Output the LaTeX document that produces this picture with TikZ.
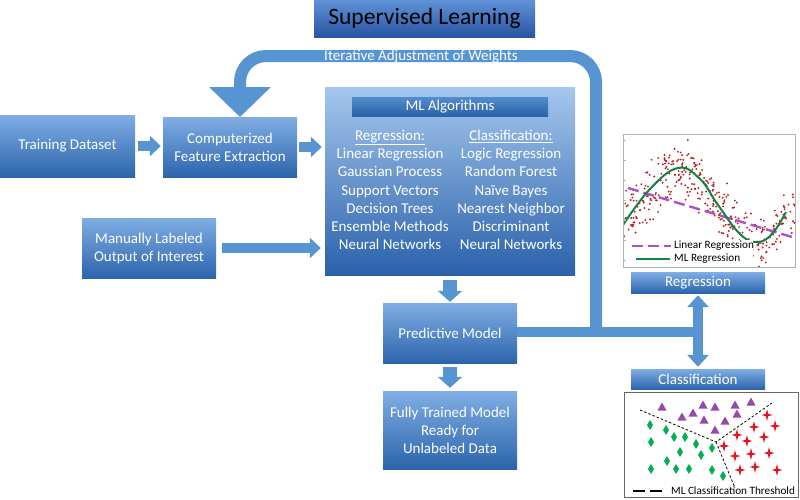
\documentclass[tikz,border=0pt]{standalone}
\usepackage{fontspec}
\setmainfont{Carlito}
\usetikzlibrary{arrows.meta}
\definecolor{btop}{RGB}{128,174,228}
\definecolor{bbot}{RGB}{44,100,172}
\definecolor{mltop}{RGB}{165,199,238}
\definecolor{mlbot}{RGB}{42,97,170}
\definecolor{bartop}{RGB}{82,140,206}
\definecolor{barbot}{RGB}{44,98,168}
\definecolor{ttop}{RGB}{96,146,216}
\definecolor{tbot}{RGB}{40,84,162}
\definecolor{arr}{RGB}{86,148,210}
\definecolor{dotred}{RGB}{185,30,30}
\definecolor{linpur}{RGB}{172,82,196}
\definecolor{mlgreen}{RGB}{20,130,70}
\definecolor{tripur}{RGB}{150,72,172}
\definecolor{diagreen}{RGB}{0,176,80}
\definecolor{starred}{RGB}{230,20,30}
\begin{document}
\begin{tikzpicture}[x=1pt,y=-1pt,
  box/.style={rectangle, top color=btop, bottom color=bbot, text=white, align=center,
    font=\fontsize{15}{18}\selectfont, inner sep=0pt},
  fath/.style={draw=arr, line width=10pt, -{Triangle[length=11pt,width=20pt]}},
  fatv/.style={draw=arr, line width=14pt, -{Triangle[length=11pt,width=24pt]}},
  small/.style={font=\fontsize{11.2}{13}\selectfont, inner sep=0pt, anchor=west},
]
\useasboundingbox (0,0) rectangle (800,499);

% title
\node[box, top color=ttop, bottom color=tbot, text=black, font=\fontsize{23.5}{26}\selectfont,
  minimum width=221pt, minimum height=37pt] (title) at (424.5,18.5) {Supervised Learning};

% main boxes
\node[box, minimum width=135pt, minimum height=62pt] (train) at (67.5,146) {Training Dataset};
\node[box, minimum width=134pt, minimum height=60pt] (comp) at (230,147) {Computerized\\Feature Extraction};
\node[box, minimum width=134pt, minimum height=60pt] (man) at (149,248) {Manually Labeled\\Output of Interest};
\node[box, top color=mltop, bottom color=mlbot, minimum width=250pt, minimum height=188pt] (ml) at (450,181) {};
\node[box, top color=bartop, bottom color=barbot, minimum width=196pt, minimum height=19pt] (mlt) at (450,106.5) {ML Algorithms};
\node[text=white, align=center, font=\fontsize{15}{18.2}\selectfont, inner sep=0pt] (regcol) at (390,190)
  {\underline{Regression:}\\Linear Regression\\Gaussian Process\\Support Vectors\\Decision Trees\\Ensemble Methods\\Neural Networks};
\node[text=white, align=center, font=\fontsize{15}{18.2}\selectfont, inner sep=0pt] (clscol) at (511,190)
  {\underline{Classification:}\\Logic Regression\\Random Forest\\Naïve Bayes\\Nearest Neighbor\\Discriminant\\Neural Networks};
\node[box, minimum width=134pt, minimum height=60pt] (pred) at (450,333) {Predictive Model};
\node[box, minimum width=134pt, minimum height=78pt] (full) at (450,430) {Fully Trained Model\\Ready for\\Unlabeled Data};
\node[box, minimum width=134pt, minimum height=21pt] (reg) at (698,282.5) {Regression};
\node[box, minimum width=134pt, minimum height=20pt] (cls) at (698,379) {Classification};

% block arrows
\draw[fath, shorten <=3pt, shorten >=2pt] (train.east) -- (train.east -| comp.west);
\draw[fath, shorten <=2pt, shorten >=3pt] (comp.east) -- (comp.east -| ml.west);
\draw[fath, shorten <=6pt, shorten >=4pt] (man.east) -- (man.east -| ml.west);
\draw[fatv, shorten <=5pt, shorten >=1pt] (ml.south) -- (pred.north);
\draw[fatv, shorten <=4pt, shorten >=3pt] (pred.south) -- (full.north);

% output connectors
\coordinate (jr) at (703,332);
\coordinate (fbs) at (596,332);
\coordinate (fbr) at (596,56);
\coordinate (fbl) at (240,56);
\coordinate (fbend) at (240,117);
\draw[draw=arr, line width=12pt, rounded corners=26pt, -{Triangle[length=30pt,width=60pt]}]
  (fbs) -- (fbr) -- (fbl) -- (fbend);
\draw[draw=arr, line width=10pt] (pred.east |- jr) -- (jr);
\draw[draw=arr, line width=10pt, {Triangle[length=12pt,width=21pt]}-{Triangle[length=12pt,width=21pt]},
  shorten <=2pt, shorten >=2pt] (reg.south) -- (cls.north);
\node[text=white, font=\fontsize{15}{17}\selectfont, inner sep=0pt] (iter) at (421,56.5) {Iterative Adjustment of Weights};

% regression plot
\begin{scope}
  \clip (623,134) rectangle (795,267);
  \pgfmathsetseed{7}
  \foreach \i in {1,...,360} {
    \pgfmathsetmacro\xx{623+172*rnd}
    \pgfmathsetmacro\yy{205-37*sin(360*((\xx-623)/162-0.34)/0.98+90)+14*(rand+rand+rand)}
    \fill[dotred] (\xx,\yy) circle (1.05pt);
  }
  \draw[linpur, line width=2.4pt, dash pattern=on 11pt off 5pt] (628,188) -- (792,237);
  \draw[mlgreen, line width=2pt] plot[smooth, tension=0.7] coordinates
    {(623,225) (650,189) (678,168) (700,179) (718,205) (740,234) (757,242) (772,234) (786,212)};
\end{scope}
\draw[gray!60, line width=0.6pt] (623,134) rectangle (795,267);
\foreach \t in {0,1,2,3,4,5,6} {
  \draw[gray!60, line width=0.4pt] (623,{140+20*\t}) -- (626,{140+20*\t});
}
\fill[white] (629,240) rectangle (753,265);
\draw[linpur, line width=2.4pt, dash pattern=on 11pt off 5pt] (632,246) -- (671,246);
\draw[mlgreen, line width=2.4pt] (636,259) -- (670,259);
\node[small] (lrl) at (674,246) {Linear Regression};
\node[small] (mll) at (674,259) {ML Regression};

% classification plot
\draw[gray!80!black, line width=0.7pt] (624,392) rectangle (798,497);
\coordinate (cc) at (716,442);
\draw[black, line width=0.8pt, dash pattern=on 2.5pt off 2pt] (640,410) -- (cc) -- (772,403);
\draw[black, line width=0.8pt, dash pattern=on 2.5pt off 2pt] (cc) -- (735,488);
\foreach \x/\y in {662/407,682/417,693/413,703/405,715/407,704/420,725/421,735/405,751/402,737/414,715/430} {
  \fill[tripur] (\x,\y-4.5) -- (\x+4.5,\y+3.5) -- (\x-4.5,\y+3.5) -- cycle;
}
\foreach \x/\y in {650/425,666/430,674/437,685/437,696/444,712/448,651/442,680/452,701/455,667/461,651/469,676/469,689/469,712/470,723/476} {
  \fill[diagreen] (\x,\y-5) -- (\x+3,\y) -- (\x,\y+5) -- (\x-3,\y) -- cycle;
}
\foreach \x/\y in {767/415,775/426,754/427,737/435,747/441,764/437,724/446,735/456,751/454,769/453,755/467,777/470,740/470} {
  \fill[starred] (\x,\y-6) -- (\x+1.2,\y-1.2) -- (\x+5.5,\y) -- (\x+1.2,\y+1.2) -- (\x,\y+6)
    -- (\x-1.2,\y+1.2) -- (\x-5.5,\y) -- (\x-1.2,\y-1.2) -- cycle;
}
\draw[black, line width=2.4pt, dash pattern=on 12pt off 5pt] (633,491) -- (662,491);
\node[small] (thr) at (671,491) {ML Classification Threshold};
\end{tikzpicture}
\end{document}
